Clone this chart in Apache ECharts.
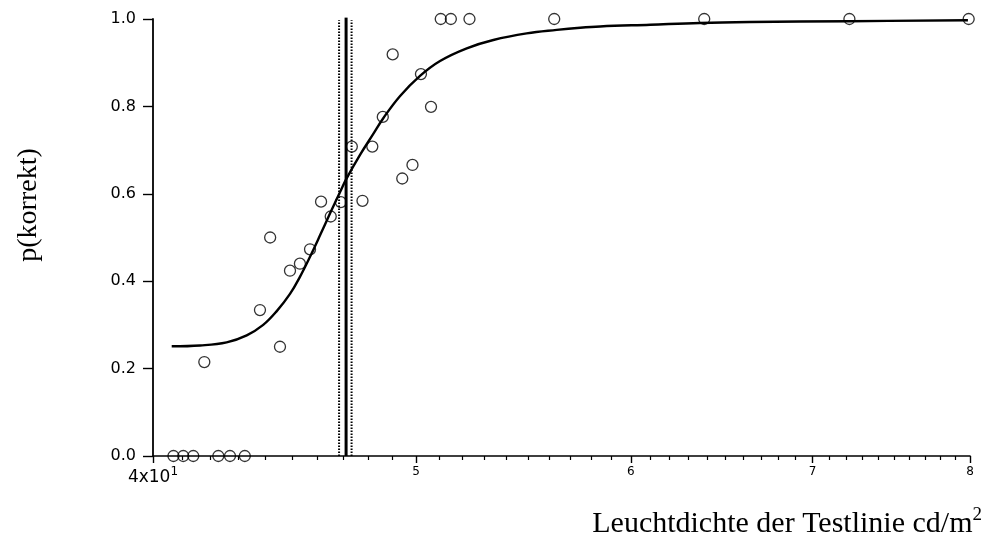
<!DOCTYPE html>
<html>
<head>
<meta charset="utf-8">
<title>p(korrekt)</title>
<script src="https://cdn.jsdelivr.net/npm/echarts@6/dist/echarts.min.js"></script>
<style>
  html, body { margin: 0; padding: 0; background: #fff; }
  #chart { width: 997px; height: 552px; }
</style>
</head>
<body>
<div id="chart"></div>
<script>
// Measured proportions correct vs. test-line luminance (cd/m², log scale)
const obsLuminance = [
  40.70, 41.04, 41.39, 42.28, 42.70, 43.24,
  41.78, 43.80, 44.18, 44.55, 44.93, 45.31, 45.70,
  46.13, 46.51, 46.91, 47.35, 47.78, 48.18,
  48.61, 49.02, 49.42, 49.85, 50.21, 50.64,
  51.06, 51.50, 52.32, 56.22, 63.85, 72.22, 79.91
];
const obsPCorrect = [
  0, 0, 0, 0, 0, 0,
  0.215, 0.334, 0.500, 0.250, 0.424, 0.440, 0.473,
  0.582, 0.548, 0.581, 0.708, 0.584, 0.708,
  0.776, 0.919, 0.635, 0.666, 0.874, 0.799,
  1, 1, 1, 1, 1, 1, 1
];

// Fitted psychometric function (lower asymptote 0.25)
const fitLuminance = [
  40.64, 41.63, 42.58, 43.31, 43.92, 44.42, 44.93, 45.31, 45.70, 46.09,
  46.48, 46.88, 47.12, 47.68, 48.22, 48.63, 49.33, 50.17, 51.03, 52.20,
  53.39, 54.92, 56.34, 57.47, 58.45, 60.99, 63.62, 66.38, 72.26, 79.86
];
const fitPCorrect = [
  0.251, 0.253, 0.260, 0.276, 0.300, 0.331, 0.371, 0.410, 0.456, 0.505,
  0.555, 0.604, 0.633, 0.689, 0.737, 0.773, 0.824, 0.870, 0.904, 0.933,
  0.952, 0.967, 0.975, 0.980, 0.983, 0.987, 0.991, 0.993, 0.995, 0.997
];

// Threshold and its confidence bounds
const threshold = 47.12;
const thresholdTop = 1.004;
const ciBounds = [46.84, 47.34];
const ciTop = 0.997;

// Axis ticks and labels
const xMajorTicks = [40, 50, 60, 70, 80];
const xMajorLabels = ['4x10', '5', '6', '7', '8'];
const xMinorTicks = [
  41, 42, 43, 44, 45, 46, 47, 48, 49,
  51, 52, 53, 54, 55, 56, 57, 58, 59,
  61, 62, 63, 64, 65, 66, 67, 68, 69,
  71, 72, 73, 74, 75, 76, 77, 78, 79
];

const xTitle = 'Leuchtdichte der Testlinie cd/m';
const yTitle = 'p(korrekt)';

const sansFont = 'DejaVu Sans';
const serifFont = 'Liberation Serif';

const chart = echarts.init(document.getElementById('chart'), null, { renderer: 'canvas' });

const pairs = (xs, ys) => xs.map((x, i) => [x, ys[i]]);

const vline = (x, top, width, type) => ({
  type: 'line',
  xAxisIndex: 0,
  data: [[x, 0], [x, top]],
  showSymbol: false,
  silent: true,
  lineStyle: { color: '#000', width: width, type: type },
  z: 3
});

chart.setOption({
  backgroundColor: '#fff',
  animation: false,
  grid: { left: 153, right: 27, top: 19, bottom: 96, containLabel: false },
  title: {
    text: '{a|' + xTitle + '}{s|2}',
    right: 15,
    top: 506,
    padding: 0,
    textStyle: {
      fontWeight: 'normal',
      rich: {
        a: { fontFamily: serifFont, fontSize: 30, fontWeight: 'normal', lineHeight: 36, color: '#000' },
        s: { fontFamily: serifFont, fontSize: 19, fontWeight: 'normal', lineHeight: 20, verticalAlign: 'top', color: '#000' }
      }
    }
  },
  graphic: [{
    type: 'text',
    x: 29,
    y: 205,
    rotation: Math.PI / 2,
    style: {
      text: yTitle,
      fontFamily: serifFont,
      fontSize: 28,
      fill: '#000',
      align: 'center',
      verticalAlign: 'middle'
    }
  }],
  xAxis: [{
    type: 'log',
    logBase: 10,
    min: 40,
    max: 80,
    axisLine: { show: true, lineStyle: { color: '#000', width: 1.6 } },
    axisTick: { show: true, customValues: xMajorTicks, length: 7, inside: false,
                lineStyle: { color: '#000', width: 1.4 } },
    axisLabel: {
      show: true,
      customValues: xMajorTicks,
      margin: 10,
      formatter: function (v) {
        const i = xMajorTicks.findIndex(t => Math.abs(t - v) < 1e-6);
        if (i === 0) return '{big|' + xMajorLabels[0] + '}{sup|1}';
        return '{n|' + (i >= 0 ? xMajorLabels[i] : '') + '}';
      },
      rich: {
        big: { fontFamily: sansFont, fontSize: 17, lineHeight: 20, padding: [4, 0, 0, 0], color: '#000' },
        sup: { fontFamily: sansFont, fontSize: 12, lineHeight: 12, verticalAlign: 'top', color: '#000' },
        n: { fontFamily: sansFont, fontSize: 12, lineHeight: 12, color: '#000' }
      }
    },
    splitLine: { show: false },
    minorTick: { show: false }
  }, {
    type: 'log',
    logBase: 10,
    min: 40,
    max: 80,
    position: 'bottom',
    axisLine: { show: false },
    axisTick: { show: true, customValues: xMinorTicks, length: 4, inside: false,
                lineStyle: { color: '#000', width: 1.2 } },
    axisLabel: { show: false },
    splitLine: { show: false }
  }],
  yAxis: {
    type: 'value',
    min: 0,
    max: 1,
    interval: 0.2,
    axisLine: { show: true, lineStyle: { color: '#000', width: 1.8 } },
    axisTick: { show: true, length: 10, inside: false, lineStyle: { color: '#000', width: 1.4 } },
    axisLabel: {
      margin: 17,
      fontFamily: sansFont,
      fontSize: 16,
      color: '#000',
      formatter: v => v.toFixed(1)
    },
    splitLine: { show: false }
  },
  series: [
    {
      type: 'line',
      name: 'fit',
      xAxisIndex: 0,
      data: pairs(fitLuminance, fitPCorrect),
      smooth: 0.4,
      showSymbol: false,
      silent: true,
      lineStyle: { color: '#000', width: 2.4 },
      z: 2
    },
    vline(threshold, thresholdTop, 3, 'solid'),
    vline(ciBounds[0], ciTop, 2, [1.5, 1.5]),
    vline(ciBounds[1], ciTop, 2, [1.5, 1.5]),
    {
      type: 'scatter',
      name: 'data',
      xAxisIndex: 0,
      data: pairs(obsLuminance, obsPCorrect),
      symbol: 'circle',
      symbolSize: 11,
      clip: false,
      itemStyle: { color: 'rgba(0,0,0,0)', borderColor: '#000', borderWidth: 1.3 },
      z: 4
    }
  ]
});
</script>
</body>
</html>
